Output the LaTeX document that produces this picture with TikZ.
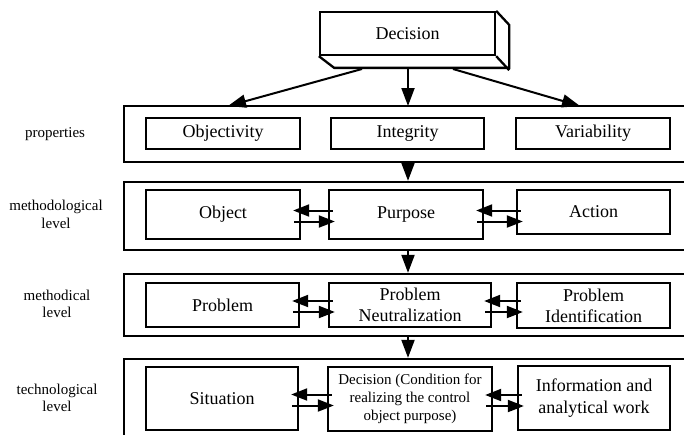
\documentclass[tikz,border=0pt]{standalone}
\usepackage{fontspec}
\setmainfont{Liberation Serif}
\usetikzlibrary{arrows.meta,calc}
\begin{document}
\begin{tikzpicture}[x=1pt,y=-1pt,
 box/.style={draw,line width=2.3pt,inner sep=0pt,align=center,font=\fontsize{18}{21}\selectfont},
 cont/.style={draw,line width=2.3pt,inner sep=0pt},
 lbl/.style={align=center,font=\fontsize{15}{17.5}\selectfont},
 arr/.style={line width=2pt,-{Triangle[length=18pt,width=13pt]}},
 harr/.style={line width=2pt,-{Triangle[length=16pt,width=12pt]}},
]
\useasboundingbox (0,0) rectangle (684,434);
\clip (0,0) rectangle (684,434);
% containers
\node[cont,minimum width=596pt,minimum height=56pt] (c1) at (422,134) {};
\node[cont,minimum width=596pt,minimum height=68pt] (c2) at (422,216) {};
\node[cont,minimum width=596pt,minimum height=62pt] (c3) at (422,305) {};
\node[cont,minimum width=596pt,minimum height=111pt] (c4) at (422,414.5) {};
% labels
\node[lbl] (l1) at (55,134) {properties};
\node[lbl] (l2) at (56,214.5) {methodological\\level};
\node[lbl] (l3) at (57,304) {methodical\\level};
\node[lbl] (l4) at (57,398) {technological\\level};
% top decision box
\node[box,minimum width=175pt,minimum height=43pt] (dec) at (407.5,33.5) {Decision};
\draw[line width=2.3pt,line join=miter] (dec.north east) -- ++(13,14) -- ++(0,43) -- ++(-175,0) -- (dec.south west);
\draw[line width=2.3pt] (dec.south east) -- ++(13,14);
% properties row
\node[box,minimum width=154pt,minimum height=31pt] (objv) at (223,133.5) {Objectivity};
\node[box,minimum width=153pt,minimum height=31pt] (integ) at (407.5,133.5) {Integrity};
\node[box,minimum width=154pt,minimum height=31pt] (var) at (593,133.5) {Variability};
% methodological row
\node[box,minimum width=154pt,minimum height=49pt] (object) at (223,214.5) {Object};
\node[box,minimum width=154pt,minimum height=49pt] (purpose) at (406,214.5) {Purpose};
\node[box,minimum width=153pt,minimum height=44pt] (action) at (593.5,212) {Action};
% methodical row
\node[box,minimum width=153pt,minimum height=44pt] (prob) at (222.5,305) {Problem};
\node[box,minimum width=162pt,minimum height=44pt] (pn) at (410,305) {Problem\\Neutralization};
\node[box,minimum width=153pt,minimum height=45pt] (pi) at (593.5,305.5) {Problem\\Identification};
% technological row
\node[box,minimum width=152pt,minimum height=63pt] (sit) at (222,398.5) {Situation};
\node[box,minimum width=164pt,minimum height=64pt,font=\fontsize{15}{18}\selectfont] (decb) at (410,399) {Decision (Condition for\\realizing the control\\object purpose)};
\node[box,minimum width=152pt,minimum height=64pt,font=\fontsize{18}{22}\selectfont] (info) at (594,398) {Information and\\analytical work};
% arrows from decision
\coordinate (dl) at (362,69);
\coordinate (dm) at (408,69);
\coordinate (dr) at (453,69);
\coordinate (tl) at (228,106);
\coordinate (tm) at (408,106);
\coordinate (tr) at (580,106);
\draw[arr] (dl) -- (tl);
\draw[arr] (dm) -- (tm);
\draw[arr] (dr) -- (tr);
% vertical arrows between levels
\coordinate (mid) at (408,0);
\draw[arr] (c1.south -| mid) -- (c2.north -| mid);
\draw[arr] (c2.south -| mid) -- (c3.north -| mid);
\draw[arr] (c3.south -| mid) -- (c4.north -| mid);
% horizontal double arrows
\foreach \a/\b in {object/purpose,purpose/action,prob/pn,pn/pi,sit/decb,decb/info}{
  \draw[harr] ($(\b.west |- \a.east)+(5,-4)$) -- ($(\a.east)+(-8,-4)$);
  \draw[harr] ($(\a.east)+(-7,7)$) -- ($(\b.west |- \a.east)+(7,7)$);
}
\end{tikzpicture}
\end{document}
